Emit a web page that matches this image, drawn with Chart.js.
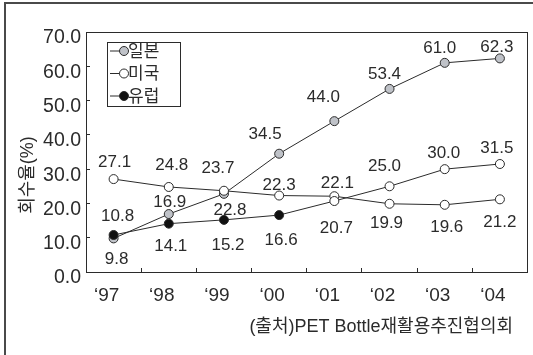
<!DOCTYPE html>
<html>
<head>
<meta charset="utf-8">
<script src="https://cdn.jsdelivr.net/npm/chart.js@4/dist/chart.umd.min.js"></script>
<style>
  html, body { margin: 0; padding: 0; background: #fff; }
  #wrap { width: 533px; height: 355px; }
</style>
</head>
<body>
<div id="wrap"><canvas id="chart"></canvas></div>
<script>
const years = ['\u201897', '\u201898', '\u201899', '\u201800', '\u201801', '\u201802', '\u201803', '\u201804'];
const japan = [9.8, 16.9, 22.8, 34.5, 44.0, 53.4, 61.0, 62.3];
const usa = [27.1, 24.8, 23.7, 22.3, 22.1, 19.9, 19.6, 21.2];
const europe = [10.8, 14.1, 15.2, 16.6, 20.7, 25.0, 30.0, 31.5];
const seriesNames = ['일본', '미국', '유럽'];
const yMin = 0, yMax = 70, yStep = 10;
const yTitle = '회수율(%)';
const sourceNote = '(출처)PET Bottle재활용추진협의회';

// where each value label sits relative to its point [dx, dy]
const labelNudge = [
  [[3, 21], [1, -12], [6, 16], [-14, -19], [-11, -24], [-5, -15], [-5, -15], [-3, -11]],
  [[1, -17], [3, -22], [-6, -22], [0, -10], [3, -13], [-3, 20], [2, 23], [0, 23]],
  [[4, -19], [2, 23], [4, 25], [2, 25], [2, 27], [-5, -20], [-1, -16], [-3, -16]]
];

const INK = '#2b2b2b';
const NUM_FONT = '"Liberation Sans", "Noto Sans CJK KR", sans-serif';
const fills = ['#bfc2c8', '#ffffff', '#111111'];

const decor = {
  id: 'decor',
  beforeDraw(chart) {
    const ctx = chart.ctx;
    ctx.save();
    ctx.strokeStyle = '#4a4a4a';
    ctx.lineWidth = 2;
    ctx.beginPath();
    ctx.moveTo(5, 355);
    ctx.lineTo(5, 3);
    ctx.lineTo(533, 3);
    ctx.stroke();
    ctx.restore();
  },
  afterDraw(chart) {
    const ctx = chart.ctx;
    const a = chart.chartArea;
    ctx.save();
    ctx.strokeStyle = INK;
    ctx.lineWidth = 1;
    ctx.strokeRect(Math.round(a.left) + 0.5, Math.round(a.top) + 0.5,
      Math.round(a.right - a.left) - 1, Math.round(a.bottom - a.top));

    // value labels
    ctx.fillStyle = INK;
    ctx.font = '17px ' + NUM_FONT;
    ctx.textAlign = 'center';
    ctx.textBaseline = 'middle';
    chart.data.datasets.forEach((ds, di) => {
      const meta = chart.getDatasetMeta(di);
      meta.data.forEach((pt, i) => {
        const n = labelNudge[di][i];
        ctx.fillText(ds.data[i].toFixed(1), pt.x + n[0], pt.y + n[1]);
      });
    });

    // legend box
    const lx = a.left + 21, ly = a.top + 10;
    ctx.strokeStyle = INK;
    ctx.strokeRect(lx + 0.5, ly + 0.5, 73, 64);
    const rows = [9, 31.5, 54];
    chart.data.datasets.forEach((ds, di) => {
      const y = ly + rows[di];
      ctx.beginPath();
      ctx.moveTo(lx + 3, y);
      ctx.lineTo(lx + 17, y);
      ctx.strokeStyle = INK;
      ctx.stroke();
      ctx.beginPath();
      ctx.arc(lx + 17, y, 4.5, 0, Math.PI * 2);
      ctx.fillStyle = fills[di];
      ctx.fill();
      ctx.stroke();
      ctx.fillStyle = INK;
      ctx.font = '17px ' + NUM_FONT;
      ctx.textAlign = 'left';
      ctx.fillText(ds.label, lx + 21, y + 1);
    });

    // y title
    ctx.save();
    ctx.translate(28, 175);
    ctx.rotate(-Math.PI / 2);
    ctx.font = '18px ' + NUM_FONT;
    ctx.textAlign = 'center';
    ctx.fillText(yTitle, 0, 0);
    ctx.restore();

    // source
    ctx.font = '18px ' + NUM_FONT;
    ctx.textAlign = 'right';
    ctx.fillText(sourceNote, 513, 327);
    ctx.restore();
  }
};

function series(label, data, di, order) {
  return {
    label: label,
    data: data,
    order: order,
    borderColor: INK,
    borderWidth: 1,
    pointRadius: 4.5,
    pointHoverRadius: 4.5,
    pointBorderWidth: 1,
    pointBorderColor: INK,
    pointBackgroundColor: di === 2 ? data.map((v, i) => i < 4 ? fills[2] : '#ffffff') : fills[di],
    tension: 0,
    fill: false
  };
}

new Chart(document.getElementById('chart'), {
  type: 'line',
  data: {
    labels: years,
    datasets: [
      series(seriesNames[0], japan, 0, 2),
      series(seriesNames[1], usa, 1, 1),
      series(seriesNames[2], europe, 2, 0)
    ]
  },
  options: {
    responsive: true,
    maintainAspectRatio: false,
    animation: false,
    events: [],
    layout: { padding: { top: 32, right: 3, left: 0, bottom: 0 } },
    plugins: { legend: { display: false }, tooltip: { enabled: false } },
    scales: {
      x: {
        offset: true,
        grid: { offset: true, drawOnChartArea: false, tickLength: -4, color: INK },
        border: { color: INK },
        ticks: { color: INK, font: { size: 19, family: NUM_FONT }, padding: 16, labelOffset: -7 },
        afterFit: s => { s.height = 83; }
      },
      y: {
        min: yMin,
        max: yMax,
        grid: { drawOnChartArea: false, tickLength: -4, color: INK },
        border: { color: INK },
        ticks: {
          stepSize: yStep,
          color: INK,
          font: { size: 19.5, family: NUM_FONT },
          padding: 9,
          labelOffset: 6,
          callback: v => v.toFixed(1)
        },
        afterFit: s => { s.width = 86; }
      }
    }
  },
  plugins: [decor]
});
</script>
</body>
</html>
